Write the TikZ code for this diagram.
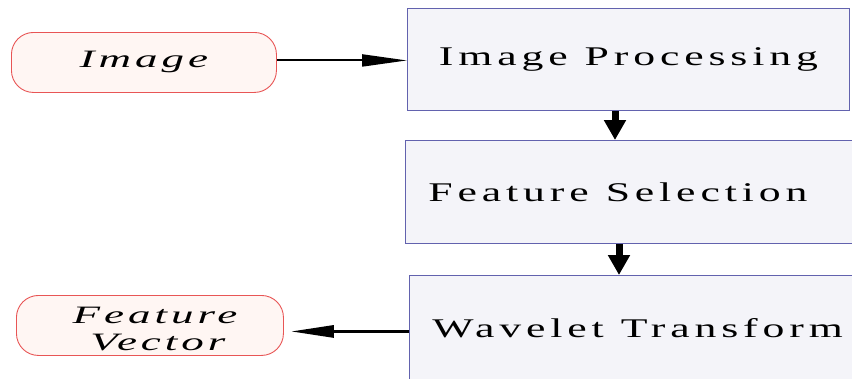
\documentclass[tikz,border=0pt]{standalone}
\usepackage{fontspec}
\setmainfont{Liberation Serif}
\newfontfamily\boxfont[FakeStretch=1.62,LetterSpace=18]{Liberation Serif}
\newfontfamily\ovalfont[FakeStretch=1.8,LetterSpace=16]{Liberation Serif Italic}
\usetikzlibrary{arrows.meta,calc}
\definecolor{ovalfill}{HTML}{FFF6F3}
\definecolor{ovaldraw}{HTML}{E85555}
\definecolor{boxfill}{HTML}{F4F4F9}
\definecolor{boxdraw}{HTML}{6262AE}
\newcommand{\wsp}{\hspace{17pt}}
\tikzset{
  oval/.style={draw=ovaldraw, fill=ovalfill, line width=0.9pt, rounded corners=22pt,
    anchor=north west, align=center, inner sep=0pt, font=\ovalfont\fontsize{25}{27}\selectfont},
  stepbox/.style={draw=boxdraw, fill=boxfill, line width=0.9pt, anchor=north west,
    inner sep=0pt, font=\boxfont\fontsize{27}{30}\selectfont},
  thinarrow/.style={line width=2pt, -{Triangle[length=45pt,width=12pt]}},
  downarrow/.style={line width=7pt, -{Triangle[length=20pt,width=21pt]}},
  backarrow/.style={line width=3pt, -{Triangle[length=43pt,width=12pt]}},
}
\begin{document}
\begin{tikzpicture}[x=1pt,y=-1pt]
\useasboundingbox (0,0) rectangle (852,378);
\clip (0,0) rectangle (852,378);
\node[oval, minimum width=265pt, minimum height=60pt] (img) at (11,32) {Image};
\node[stepbox, minimum width=442pt, minimum height=102pt] (ip) at (407,8) {Image\wsp Processing};
\node[stepbox, minimum height=103pt, text width=429pt, inner xsep=23pt, align=left] (fs) at (405,140) {Feature\wsp Selection};
\node[stepbox, minimum height=105pt, text width=425pt, inner xsep=23pt, align=left] (wt) at (409,275) {Wavelet\wsp Transform};
\node[oval, minimum width=267pt, minimum height=60pt, text height=50pt, text depth=0pt] (fv) at (16,295) {\hspace*{10pt}Feature\\\hspace*{16pt}Vector};
\coordinate (a1) at (615,0);
\coordinate (a2) at (619,0);
\draw[thinarrow] ([yshift=2pt]img.east) -- ([yshift=2pt]img.east -| ip.west);
\draw[downarrow] (ip.south -| a1) -- (fs.north -| a1);
\draw[downarrow] (fs.south -| a2) -- (wt.north -| a2);
\draw[backarrow, shorten >=7pt] ([yshift=-3.5pt]wt.west) -- ([yshift=-3.5pt]wt.west -| fv.east);
\end{tikzpicture}
\end{document}
